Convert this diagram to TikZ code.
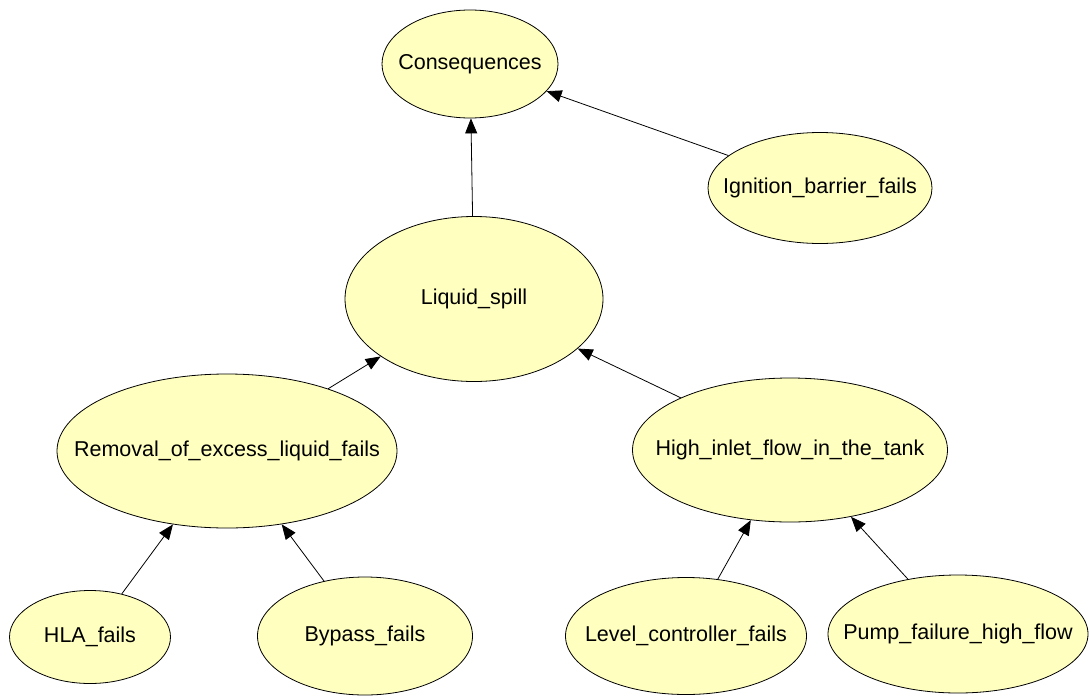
\documentclass[tikz,border=0pt]{standalone}
\usepackage{fontspec}
\setmainfont{Liberation Sans}
\usetikzlibrary{shapes.geometric, arrows.meta}
\definecolor{paleyellow}{HTML}{FFFFC0}
\newcommand{\nlabel}[1]{\makebox[0pt][c]{#1}}
\tikzset{
    bnode/.style={ellipse, draw=black, line width=0.8pt, fill=paleyellow, inner sep=0pt,
        font=\fontsize{21.5}{25}\selectfont},
    link/.style={line width=0.8pt, -{Triangle[length=15pt,width=12pt]}}
}

\begin{document}
\begin{tikzpicture}[x=1pt, y=-1pt]
                    \useasboundingbox (0,0) rectangle (1089,696);

                    %top level
                    \node[bnode, minimum width=176pt, minimum height=108pt] (cons) at (470,64) {\nlabel{Consequences}};
                    \node[bnode, minimum width=224pt, minimum height=111pt] (ignition) at (820,188) {\nlabel{Ignition\_barrier\_fails}};
                    \node[bnode, minimum width=258pt, minimum height=165pt] (spill) at (474,299) {\nlabel{Liquid\_spill}};

                    %middle level
                    \node[bnode, minimum width=340pt, minimum height=154pt] (removal) at (227,451) {\nlabel{Removal\_of\_excess\_liquid\_fails}};
                    \node[bnode, minimum width=315pt, minimum height=144pt] (inlet) at (790,450) {\nlabel{High\_inlet\_flow\_in\_the\_tank}};

                    %bottom level
                    \node[bnode, minimum width=161pt, minimum height=93pt] (hla) at (90,637) {\nlabel{HLA\_fails}};
                    \node[bnode, minimum width=215pt, minimum height=118pt] (bypass) at (365,636) {\nlabel{Bypass\_fails}};
                    \node[bnode, minimum width=241pt, minimum height=117pt] (level) at (686,636) {\nlabel{Level\_controller\_fails}};
                    \node[bnode, minimum width=260pt, minimum height=118pt] (pump) at (958,634) {\nlabel{Pump\_failure\_high\_flow}};

                    %arcs
                    \draw[link] (spill) -- (cons);
                    \draw[link] (ignition) -- (cons);
                    \draw[link] (removal) -- (spill);
                    \draw[link] (inlet) -- (spill);
                    \draw[link] (hla) -- (removal);
                    \draw[link] (bypass) -- (removal);
                    \draw[link] (level) -- (inlet);
                    \draw[link] (pump) -- (inlet);

\end{tikzpicture}
\end{document}
